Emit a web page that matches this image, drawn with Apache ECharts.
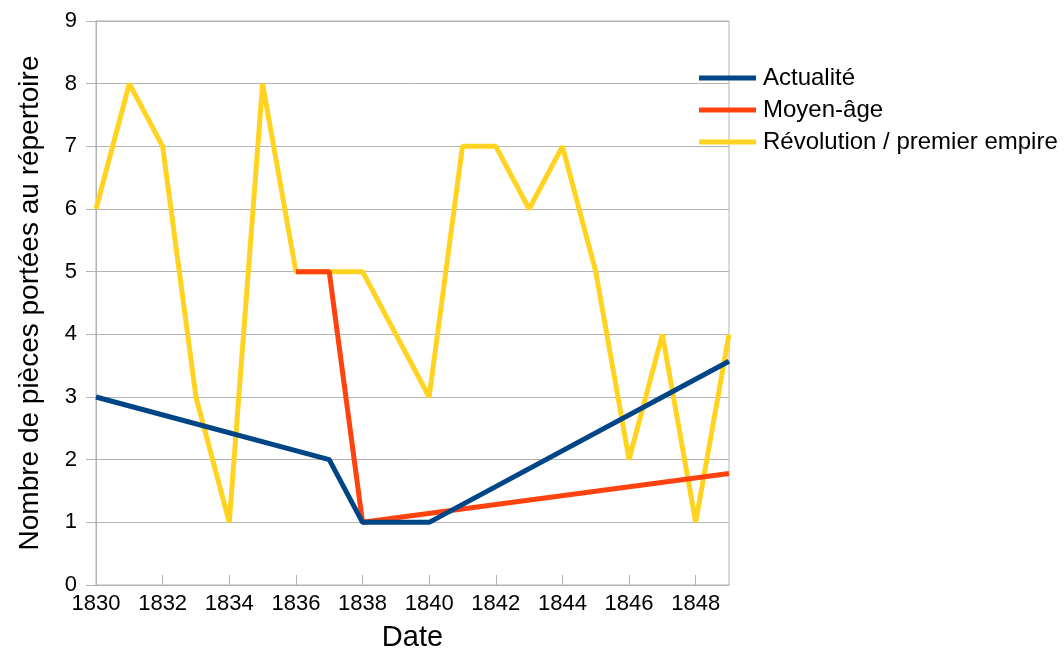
<!DOCTYPE html>
<html>
<head>
<meta charset="utf-8">
<script src="https://cdn.jsdelivr.net/npm/echarts@6/dist/echarts.min.js"></script>
<style>
  html, body { margin: 0; padding: 0; background: #fff; }
  #main { width: 1064px; height: 651px; }
</style>
</head>
<body>
<div id="main"></div>
<script>
// années
const years = [1830, 1831, 1832, 1833, 1834, 1835, 1836, 1837, 1838, 1839,
               1840, 1841, 1842, 1843, 1844, 1845, 1846, 1847, 1848, 1849];
// nombre de pièces par thème (null = pas de point)
const actualite  = [3, null, null, null, null, null, null, 2, 1, null,
                    1, null, null, null, null, null, null, null, null, 3.57];
const moyenAge   = [null, null, null, null, null, null, 5, 5, 1, null,
                    null, null, null, null, null, null, null, null, null, 1.78];
const revolution = [6, 8, 7, 3, 1, 8, 5, 5, 5, 4,
                    3, 7, 7, 6, 7, 5, 2, 4, 1, 4];
const seriesNames = ['Actualité', 'Moyen-âge', 'Révolution / premier empire'];
const colors = ['#004586', '#ff420e', '#ffd320'];

function pairs(vals) {
  return years.map((y, i) => [y, vals[i]]);
}

const chart = echarts.init(document.getElementById('main'));
const font = 'Liberation Sans, Arial, sans-serif';

function line(name, vals, color) {
  return {
    name: name,
    type: 'line',
    data: pairs(vals),
    connectNulls: true,
    showSymbol: false,
    symbol: 'none',
    lineStyle: { color: color, width: 5 },
    itemStyle: { color: color },
    emphasis: { disabled: true }
  };
}

chart.setOption({
  animation: false,
  textStyle: { fontFamily: font },
  grid: {
    left: 96, right: 335, top: 21, bottom: 66,
    outerBoundsMode: 'none',
    show: true, borderColor: '#b3b3b3', borderWidth: 1
  },
  legend: {
    orient: 'vertical',
    left: 694, top: 61,
    icon: 'rect',
    itemWidth: 57, itemHeight: 5,
    itemGap: 8,
    data: seriesNames,
    textStyle: { fontSize: 24, color: '#000', fontFamily: font, lineHeight: 24, padding: [0, 0, 0, 2] }
  },
  xAxis: {
    type: 'value',
    min: 1830, max: 1849, interval: 2,
    name: 'Date',
    nameLocation: 'middle',
    nameGap: 38,
    nameTextStyle: { fontSize: 29, color: '#000', fontFamily: font },
    axisLine: { lineStyle: { color: '#b3b3b3', width: 1 } },
    axisTick: { show: true, inside: true, length: 10, lineStyle: { color: '#b3b3b3' } },
    axisLabel: {
      fontSize: 22, color: '#000', margin: 8, fontFamily: font,
      showMaxLabel: false,
      formatter: v => (v % 2 === 0 ? String(v) : '')
    },
    splitLine: { show: false }
  },
  yAxis: {
    type: 'value',
    min: 0, max: 9, interval: 1,
    name: 'Nombre de pièces portées au répertoire',
    nameLocation: 'middle',
    nameGap: 52,
    nameTextStyle: { fontSize: 28, color: '#000', fontFamily: font },
    axisLine: { show: true, lineStyle: { color: '#b3b3b3', width: 1 } },
    axisTick: { show: true, length: 10, lineStyle: { color: '#b3b3b3' } },
    axisLabel: { fontSize: 22, color: '#000', margin: 19, fontFamily: font },
    splitLine: { show: true, lineStyle: { color: '#b3b3b3', width: 1 } }
  },
  // ordre de dessin : jaune dessous, bleu dessus
  series: [
    line(seriesNames[2], revolution, colors[2]),
    line(seriesNames[1], moyenAge, colors[1]),
    line(seriesNames[0], actualite, colors[0])
  ]
});
</script>
</body>
</html>
